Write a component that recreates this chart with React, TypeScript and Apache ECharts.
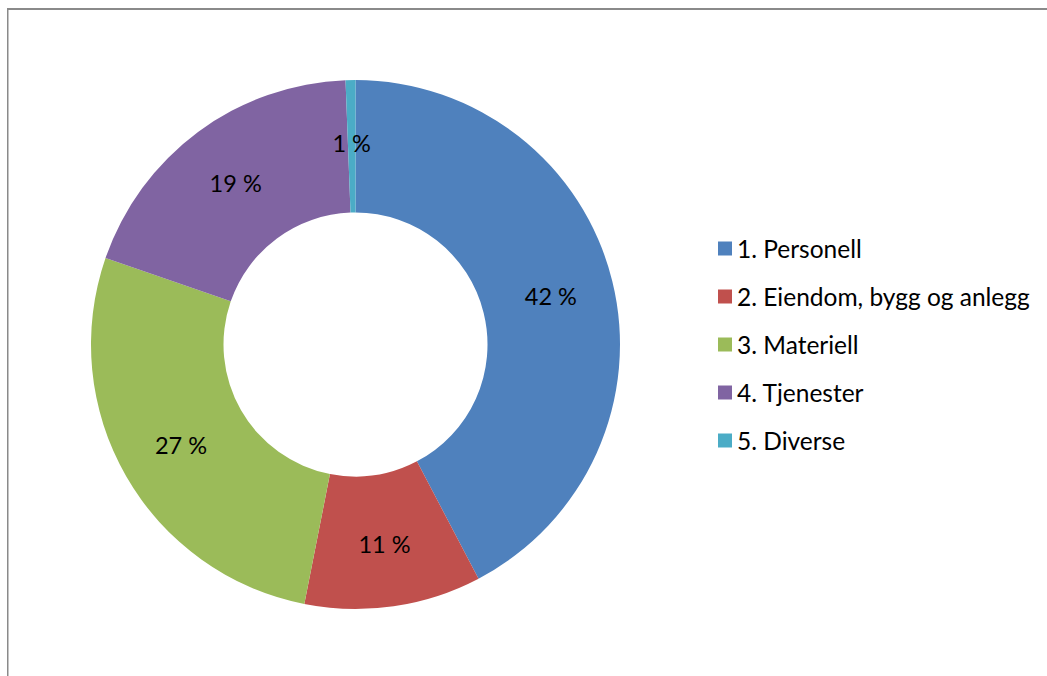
import React, { useEffect, useRef } from "react";
import * as echarts from "echarts";

const categories = [
  "1. Personell",
  "2. Eiendom, bygg og anlegg",
  "3. Materiell",
  "4. Tjenester",
  "5. Diverse",
];
const values = [42.3, 10.8, 27.2, 19.1, 0.6];
const colors = ["#4F81BD", "#C0504D", "#9BBB59", "#8064A2", "#4BACC6"];

const FONT = "Lato, 'Open Sans', sans-serif";

export default function App() {
  const ref = useRef<HTMLDivElement>(null);
  useEffect(() => {
    if (!ref.current) return;
    const chart = echarts.init(ref.current, null, { renderer: "svg" });
    chart.setOption({
      animation: false,
      color: colors,
      graphic: [
        {
          type: "rect",
          shape: { x: 7, y: 8, width: 1047, height: 2 },
          style: { fill: "#8a8a8a" },
          silent: true,
        },
        {
          type: "rect",
          shape: { x: 7, y: 8, width: 1.5, height: 676 },
          style: { fill: "#8a8a8a" },
          silent: true,
        },
      ],
      legend: {
        orient: "vertical",
        left: 713,
        top: 231,
        padding: 5,
        itemWidth: 14,
        itemHeight: 14,
        itemGap: 23,
        icon: "rect",
        selectedMode: false,
        textStyle: {
          fontFamily: FONT,
          fontSize: 24.5,
          lineHeight: 25,
          color: "#000",
        },
        data: categories,
      },
      series: [
        {
          type: "pie",
          center: [355.5, 344.5],
          radius: [132, 264.5],
          startAngle: 90,
          clockwise: true,
          avoidLabelOverlap: false,
          emphasis: { disabled: true },
          itemStyle: { borderWidth: 0 },
          label: {
            show: true,
            position: "inside",
            fontFamily: FONT,
            fontSize: 23.5,
            color: "#000",
            formatter: (p: any) => Math.round(p.percent) + " %",
          },
          labelLine: { show: false },
          data: categories.map((name, i) => ({ name, value: values[i] })),
        },
      ],
    });
    return () => chart.dispose();
  }, []);
  return (
    <div
      ref={ref}
      style={{ position: "absolute", left: 0, top: 0, width: 1047, height: 676, background: "#fff" }}
    />
  );
}
